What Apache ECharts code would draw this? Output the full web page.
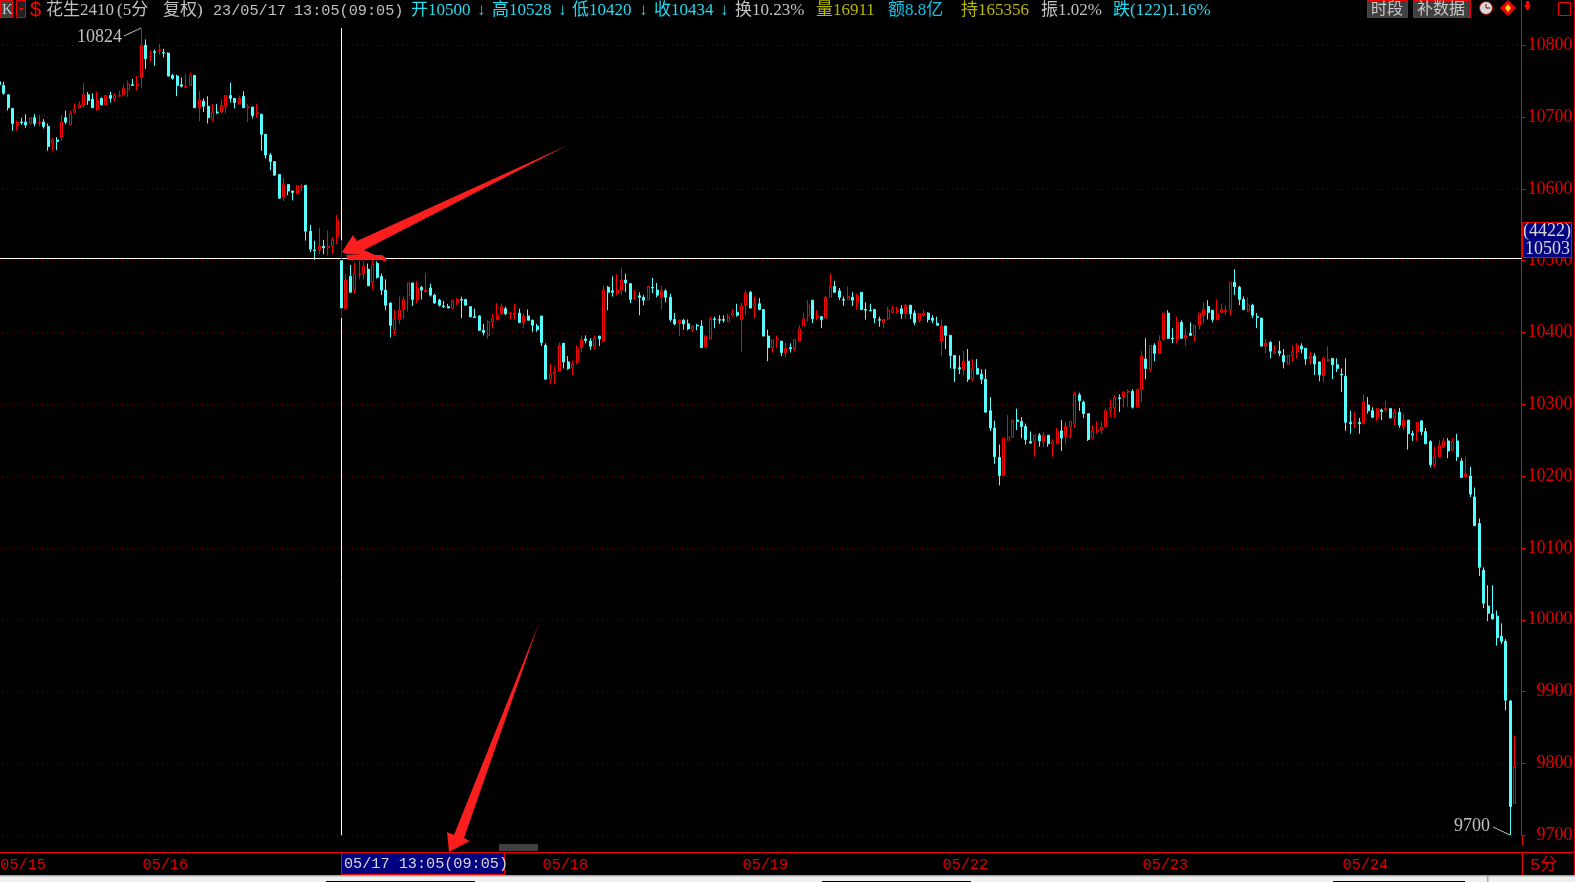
<!DOCTYPE html>
<html><head><meta charset="utf-8">
<style>html,body{margin:0;padding:0;background:#000;overflow:hidden}#c{width:1575px;height:882px}</style>
<script src="https://cdn.jsdelivr.net/npm/echarts@6/dist/echarts.min.js"></script>
</head><body><div id="c"></div>
<script>
// each bar: [open, close, low, high]
const may15=[[10749,10745,10745,10749],[10744,10733,10731,10749],[10731,10713,10709,10731],[10712,10691,10681,10712],[10689,10693,10681,10695],[10693,10692,10689,10699],[10693,10689,10685,10704],[10691,10699,10690,10699],[10699,10691,10687,10704],[10692,10693,10687,10703],[10693,10687,10684,10697],[10687,10659,10653,10691],[10664,10668,10653,10671],[10668,10666,10654,10672],[10672,10693,10667,10703],[10699,10693,10690,10709],[10689,10705,10689,10709],[10707,10711,10705,10719],[10713,10717,10712,10722],[10716,10731,10713,10747],[10731,10723,10717,10735],[10725,10713,10713,10733],[10711,10723,10709,10735],[10726,10717,10716,10727],[10717,10730,10717,10730],[10730,10726,10720,10735],[10726,10730,10722,10733],[10729,10730,10729,10737],[10731,10740,10730,10745],[10738,10746,10728,10751],[10745,10744,10744,10753],[10744,10746,10737,10757]];
const may16=[[10755,10800,10740,10824],[10800,10781,10767,10808],[10784,10785,10777,10793],[10791,10790,10771,10794],[10792,10793,10787,10802],[10790,10789,10783,10795],[10789,10757,10757,10790],[10758,10754,10752,10760],[10757,10744,10729,10759],[10745,10743,10741,10755],[10742,10743,10740,10760],[10744,10758,10743,10762],[10758,10713,10713,10758],[10713,10724,10694,10736],[10722,10715,10707,10726],[10715,10699,10691,10729],[10697,10707,10693,10718],[10707,10706,10704,10718],[10707,10716,10705,10725],[10715,10730,10705,10730],[10730,10726,10720,10748],[10726,10720,10712,10726],[10718,10726,10718,10730],[10729,10713,10713,10736],[10713,10714,10693,10718],[10714,10702,10698,10714],[10705,10706,10699,10718],[10704,10676,10653,10704],[10676,10647,10642,10676],[10647,10638,10626,10650],[10638,10619,10619,10638],[10620,10587,10586,10620],[10588,10606,10583,10615],[10606,10597,10591,10606],[10597,10595,10584,10597],[10593,10604,10593,10605],[10603,10604,10597,10607],[10605,10541,10528,10605],[10541,10516,10512,10550],[10515,10514,10501,10528],[10515,10520,10509,10546],[10520,10518,10509,10529],[10518,10520,10507,10542],[10520,10529,10509,10533],[10533,10556,10523,10564]];
const may17=[[10500,10434,10420,10528],[10433,10473,10432,10482],[10478,10456,10456,10494],[10459,10482,10455,10497],[10481,10482,10474,10500],[10482,10492,10474,10499],[10488,10465,10465,10496],[10469,10495,10459,10500],[10496,10477,10475,10499],[10478,10459,10452,10482],[10459,10438,10431,10474],[10441,10410,10393,10442],[10404,10419,10396,10431],[10418,10431,10412,10450],[10432,10446,10419,10450],[10451,10469,10429,10469],[10469,10446,10437,10469],[10446,10462,10441,10472],[10463,10459,10446,10465],[10457,10459,10455,10483],[10462,10452,10450,10468],[10452,10441,10440,10454],[10445,10438,10436,10447],[10437,10436,10434,10444],[10436,10434,10434,10440],[10434,10445,10433,10446],[10442,10446,10438,10448],[10446,10445,10420,10450],[10446,10438,10438,10446],[10436,10422,10421,10436],[10422,10421,10420,10433],[10423,10403,10403,10424],[10403,10400,10396,10412],[10396,10415,10391,10417],[10415,10420,10406,10426],[10418,10424,10417,10441],[10426,10436,10424,10440],[10433,10426,10424,10436],[10426,10427,10418,10429],[10425,10427,10418,10440],[10427,10414,10414,10433],[10414,10423,10406,10427],[10423,10417,10417,10432],[10417,10410,10401,10418],[10409,10404,10401,10412]];
const may18=[[10423,10386,10381,10423],[10382,10335,10335,10385],[10335,10342,10328,10356],[10343,10345,10328,10353],[10346,10382,10346,10386],[10385,10359,10350,10385],[10359,10350,10348,10367],[10351,10356,10341,10361],[10359,10378,10356,10382],[10379,10390,10373,10396],[10391,10389,10385,10396],[10388,10381,10376,10392],[10381,10392,10377,10395],[10395,10391,10381,10395],[10388,10459,10386,10465],[10463,10456,10431,10465],[10458,10456,10450,10478],[10455,10459,10452,10481],[10459,10473,10452,10490],[10473,10469,10456,10482],[10468,10446,10441,10468],[10447,10448,10446,10459],[10451,10449,10424,10456],[10449,10445,10438,10452],[10446,10464,10446,10464],[10463,10462,10455,10476],[10459,10452,10449,10469],[10449,10458,10432,10465],[10458,10449,10442,10460],[10449,10418,10415,10454],[10418,10412,10410,10427],[10413,10417,10395,10418],[10417,10412,10404,10419],[10412,10405,10403,10418],[10404,10409,10401,10410],[10410,10409,10403,10412],[10409,10379,10379,10417],[10380,10395,10378,10396],[10391,10419,10390,10422],[10419,10418,10406,10422],[10418,10417,10412,10424],[10418,10417,10414,10424],[10415,10422,10415,10426],[10424,10427,10422,10433],[10428,10424,10422,10440]];
const may19=[[10418,10437,10373,10441],[10438,10455,10424,10458],[10456,10434,10434,10458],[10437,10440,10420,10450],[10440,10432,10431,10448],[10432,10395,10395,10432],[10395,10379,10360,10404],[10379,10390,10372,10390],[10390,10391,10379,10396],[10388,10372,10367,10388],[10372,10378,10365,10385],[10379,10377,10372,10385],[10377,10390,10374,10390],[10388,10405,10387,10410],[10409,10419,10409,10428],[10423,10438,10415,10445],[10445,10419,10413,10445],[10421,10423,10417,10431],[10422,10418,10406,10422],[10420,10449,10420,10451],[10449,10464,10449,10482],[10464,10456,10455,10472],[10458,10449,10445,10462],[10446,10445,10437,10450],[10446,10450,10445,10464],[10449,10445,10437,10456],[10442,10451,10432,10454],[10456,10432,10431,10456],[10432,10431,10418,10442],[10431,10430,10430,10440],[10432,10420,10413,10433],[10418,10417,10408,10422],[10414,10418,10406,10418],[10419,10431,10417,10436],[10428,10433,10428,10437],[10429,10431,10426,10436],[10433,10426,10419,10438],[10426,10438,10419,10440],[10438,10426,10419,10438],[10427,10414,10410,10431],[10417,10426,10414,10426],[10424,10427,10422,10432],[10427,10418,10414,10428],[10420,10417,10413,10424],[10413,10410,10410,10422]];
const may22=[[10388,10409,10367,10418],[10409,10396,10377,10409],[10396,10368,10350,10396],[10368,10350,10331,10368],[10351,10349,10342,10368],[10349,10360,10341,10374],[10360,10335,10331,10377],[10335,10349,10332,10363],[10350,10342,10342,10363],[10342,10335,10328,10349],[10335,10289,10289,10349],[10291,10267,10263,10310],[10267,10227,10217,10277],[10226,10201,10187,10244],[10201,10253,10200,10253],[10250,10254,10249,10285],[10254,10278,10254,10278],[10278,10276,10264,10294],[10276,10269,10253,10282],[10269,10251,10244,10273],[10248,10246,10245,10262],[10248,10257,10227,10257],[10257,10249,10241,10260],[10248,10257,10240,10262],[10257,10245,10241,10257],[10245,10248,10227,10251],[10245,10262,10245,10267],[10263,10253,10235,10278],[10255,10269,10244,10276],[10268,10276,10253,10277],[10273,10314,10267,10318],[10313,10305,10291,10316],[10303,10287,10281,10305],[10287,10251,10249,10287],[10253,10263,10251,10271],[10263,10264,10259,10276],[10264,10268,10259,10276],[10269,10291,10269,10294],[10291,10296,10282,10307],[10295,10309,10281,10313],[10309,10308,10289,10314],[10310,10317,10296,10318],[10317,10318,10296,10321],[10318,10296,10294,10321],[10296,10321,10296,10321]];
const may23=[[10321,10367,10303,10374],[10363,10350,10335,10392],[10349,10382,10346,10382],[10382,10371,10360,10385],[10371,10388,10371,10396],[10391,10427,10388,10428],[10427,10392,10391,10431],[10392,10391,10385,10406],[10391,10414,10385,10422],[10414,10392,10391,10417],[10392,10396,10381,10406],[10399,10396,10395,10414],[10395,10410,10388,10410],[10410,10427,10404,10427],[10424,10432,10413,10442],[10436,10428,10418,10445],[10431,10418,10414,10431],[10418,10426,10417,10446],[10428,10432,10428,10440],[10429,10431,10424,10438],[10432,10470,10424,10470],[10470,10464,10452,10488],[10463,10446,10438,10465],[10446,10432,10431,10450],[10431,10438,10428,10449],[10438,10424,10420,10440],[10422,10421,10406,10427],[10420,10381,10381,10420],[10381,10385,10371,10391],[10386,10374,10364,10388],[10371,10373,10371,10382],[10374,10371,10367,10388],[10368,10359,10350,10377],[10356,10368,10355,10368],[10367,10373,10359,10382],[10373,10382,10364,10385],[10381,10377,10371,10385],[10378,10363,10355,10378],[10363,10367,10356,10373],[10367,10356,10341,10371],[10359,10341,10332,10359],[10340,10364,10331,10367],[10360,10362,10359,10381],[10364,10355,10335,10364],[10355,10350,10345,10364]];
const may24=[[10342,10341,10317,10350],[10339,10275,10263,10364],[10275,10273,10259,10291],[10273,10275,10267,10289],[10275,10273,10259,10281],[10273,10303,10273,10314],[10299,10291,10287,10310],[10291,10282,10281,10296],[10282,10294,10277,10295],[10292,10290,10278,10294],[10292,10294,10289,10305],[10294,10281,10281,10294],[10281,10289,10271,10294],[10289,10271,10267,10295],[10269,10278,10264,10287],[10278,10259,10237,10278],[10259,10257,10249,10263],[10262,10275,10249,10275],[10277,10262,10257,10277],[10262,10245,10245,10267],[10248,10216,10212,10250],[10216,10227,10212,10241],[10227,10243,10227,10250],[10241,10249,10239,10253],[10249,10235,10225,10253],[10236,10248,10235,10253],[10249,10227,10221,10259],[10221,10198,10198,10225],[10199,10203,10198,10227],[10200,10175,10171,10213],[10171,10131,10131,10184],[10134,10073,10061,10141],[10069,10023,10016,10073],[10019,10009,9998,10048],[10008,10001,10001,10048],[10005,9975,9964,10013],[9977,9970,9966,9995],[9970,9888,9874,9973],[9887,9740,9700,9888],[9744,9796,9744,9839]];
const days=[['05/15',may15],['05/16',may16],['05/17',may17],['05/18',may18],['05/19',may19],['05/22',may22],['05/23',may23],['05/24',may24]];
const categories=[],bars=[];
days.forEach(([lab,arr])=>arr.forEach((b,i)=>{categories.push(i===0?lab:'');bars.push(b);}));
categories.push('');
const crossIndex=may15.length+may16.length, crossPrice=10503;
const crossBar=bars[crossIndex];

const UP='#ff0000',DOWN='#55ffff',AX='#f00000',TXT='#e00000';
const SER='"Liberation Serif","Noto Sans CJK SC"', MONO='"Liberation Mono","Noto Sans CJK SC"';
const G=[];
const t=(text,x,y,fill,size=17,family=SER,extra={})=>G.push({type:'text',z:100,x,y,style:Object.assign({text,fill,font:`${size}px ${family}`,textVerticalAlign:'middle'},extra)});
const rect=(x,y,w,h,fill,stroke)=>G.push({type:'rect',z:90,shape:{x,y,width:w,height:h},style:{fill,stroke:stroke||null,lineWidth:1}});
const line=(x1,y1,x2,y2,stroke)=>G.push({type:'line',z:95,shape:{x1,y1,x2,y2},style:{stroke,lineWidth:1}});
const poly=(points,fill)=>G.push({type:'polygon',z:96,shape:{points},style:{fill}});

// header
rect(0.5,0.5,12,17,'#404040',AX); t('K',2,10,'#c8c8c8',15);
rect(16.5,0.5,9,17,'#202020',AX); poly([[19,8],[24,8],[21.5,11]],UP);
t('$',30,10,UP,20,'"Liberation Sans"');
const GR='#c0c0c0',CY='#22dcf0',OL='#b8b800',BL='#10c4e8';
t('花生2410',46,11,GR); t('(5分',117,11,GR); t('复权)',163,11,GR);
t('23/05/17',213,11,GR,15.2,MONO); t('13:05(09:05)',294,11,GR,15.2,MONO);
t('开10500',411,11,CY); t('↓',477,11,CY);
t('高10528',492,11,CY); t('↓',558,11,CY);
t('低10420',572,11,CY); t('↓',639,11,CY);
t('收10434',654,11,CY); t('↓',720,11,CY);
t('换10.23%',735,11,GR,17);
t('量16911',816,11,OL); t('额8.8亿',888,11,BL); t('持165356',961,11,OL);
t('振1.02%',1041,11,GR); t('跌(122)1.16%',1113,11,CY);
rect(1367.5,0.5,40,17,'#404040',AX); t('时段',1371,10,'#c8c8c8',16);
rect(1413.5,0.5,57,17,'#404040',AX); t('补数据',1417,10,'#c8c8c8',16);
G.push({type:'circle',z:95,shape:{cx:1486,cy:8,r:6.5},style:{fill:'#d8d8d8',stroke:'#a00000',lineWidth:1}});
line(1486,4,1486,8,'#800000'); line(1486,8,1490,8,'#800000');
poly([[1508,0],[1516,8],[1508,16],[1500,8]],'#f00000'); poly([[1508,4],[1511,8],[1508,12],[1505,8]],'#ffe000');
poly([[1526,1],[1529,1],[1529,5],[1531,5],[1527.5,11],[1524,5],[1526,5]],UP);
rect(1558.5,2.5,12,13,'#000',AX);

// frame
line(1522.5,835,1522.5,845,AX);
line(1522.5,852,1522.5,875,AX);
line(1521,852.5,1575,852.5,AX);
line(1574.5,0,1574.5,875,AX);
rect(499,844,39,7,'#404040');
// axis readouts
rect(341.5,852.5,163,22,'#000080',AX);
t('05/17 13:05(09:05)',344,863.5,'#d8d8d8',15.2,MONO);
t('5分',1530,865,TXT,17,MONO);
rect(1522.5,222.5,49,35,'#000080',AX);
t('(4422)',1523,231,'#d8d8d8',18);
t('10503',1525,249,'#d8d8d8',18);
// extreme labels
t('10824',77,37,GR,18); line(124,36,141,28,GR);
t('9700',1454,826,GR,18); line(1493,827,1510,835,GR);
// hand-drawn arrows
poly([[342,252],[353,235],[357,241],[568,145],[364,250],[377,256],[346,254]],'#fa1e1e');
poly([[346,255],[382,255],[386,258],[386,262],[382,260],[348,260]],'#fa1e1e');
poly([[449,852],[447,832],[454,835],[539,623],[464,838],[470,841]],'#fa1e1e');
// bottom window strip
rect(0,875,1575,7,'#f0f0f0');
G.push({type:'rect',z:91,shape:{x:0,y:875,width:1575,height:1.5},style:{fill:'#a8a8a8'}});
rect(326,881,149,1,'#000'); rect(822,881,149,1,'#000'); rect(1333,881,132,1,'#000');
rect(1487,876,1.5,6,'#a8a8a8');

const chart=echarts.init(document.getElementById('c'),null,{renderer:'canvas',width:1575,height:882});
chart.setOption({
  animation:false,backgroundColor:'#000',
  grid:{left:-2.92,top:-26.6,width:categories.length*(200/45),height:861.8,containLabel:false,outerBoundsMode:'none'},
  tooltip:{show:false},
  xAxis:{type:'category',data:categories,offset:17,boundaryGap:true,
    axisLine:{lineStyle:{color:AX,width:1}},
    axisTick:{alignWithLabel:true,length:22,interval:(i,v)=>v!=='',lineStyle:{color:AX,width:1,type:[3,16,3]}},
    axisLabel:{interval:(i,v)=>v!=='',align:'left',verticalAlign:'top',margin:5,padding:[0,0,0,1],color:TXT,fontSize:15.2,fontFamily:MONO,hideOverlap:false},
    splitLine:{show:false}},
  yAxis:{type:'value',position:'right',min:9700,max:10900,interval:100,scale:true,
    axisLine:{show:true,lineStyle:{color:AX,width:1}},
    axisTick:{show:true,length:4,lineStyle:{color:AX}},
    axisLabel:{align:'right',margin:51,color:TXT,fontSize:18,fontFamily:SER,formatter:v=>String(v)},
    splitLine:{show:true,lineStyle:{color:'#800000',width:1,type:[1,4]}}},
  graphic:G,
  series:[{type:'candlestick',data:bars,barWidth:2.5,clip:true,large:false,progressive:0,
    itemStyle:{color:'#000',color0:DOWN,borderColor:UP,borderColor0:DOWN,borderColorDoji:UP,borderWidth:1},
    markLine:{silent:true,symbol:'none',animation:false,label:{show:false},
      lineStyle:{color:'#ffffff',width:1,type:'solid'},
      data:[
        {yAxis:crossPrice},
        [{coord:[crossIndex,10824]},{coord:[crossIndex,crossBar[3]]}],
        [{coord:[crossIndex,crossBar[3]],lineStyle:{color:'#a00000'}},{coord:[crossIndex,crossBar[0]]}],
        [{coord:[crossIndex,crossBar[0]]},{coord:[crossIndex,crossBar[1]]}],
        [{coord:[crossIndex,crossBar[1]],lineStyle:{color:'#a00000'}},{coord:[crossIndex,crossBar[2]]}],
        [{coord:[crossIndex,crossBar[2]]},{coord:[crossIndex,9700]}]
      ]}
  }]
});
</script></body></html>
